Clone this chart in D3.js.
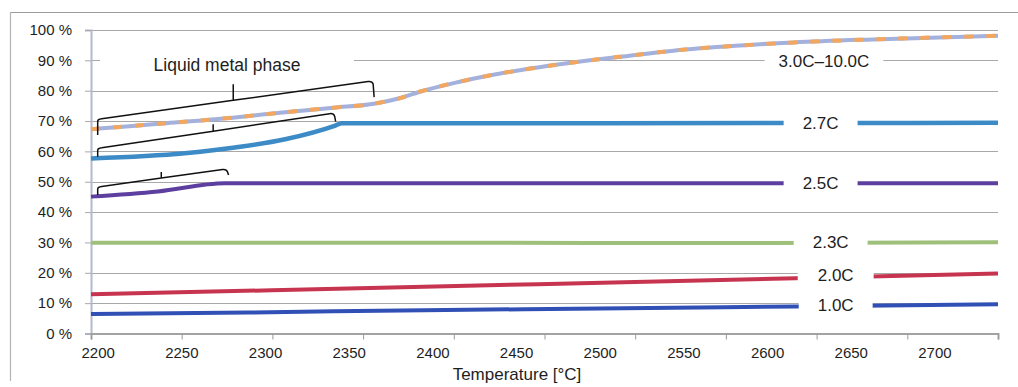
<!DOCTYPE html>
<html>
<head>
<meta charset="utf-8">
<script src="https://cdn.jsdelivr.net/npm/d3@7/dist/d3.min.js"></script>
<style>
  html, body { margin: 0; padding: 0; background: #fff; }
  svg { display: block; font-family: "Liberation Sans", Arial, sans-serif; }
</style>
</head>
<body>
<svg id="chart" width="1018" height="387"></svg>
<script>
// Temperature axis and percentage axis
const xDomain = [2196, 2738];
const xTickLabels = [2200, 2250, 2300, 2350, 2400, 2450, 2500, 2550, 2600, 2650, 2700];
const yTickLabels = [0, 10, 20, 30, 40, 50, 60, 70, 80, 90, 100];

// Series: temperature [°C] and share [%]
const tempC3to10 = [2196, 2219, 2241, 2282, 2312, 2341, 2366, 2381, 2394, 2415, 2434, 2454, 2475, 2494, 2514, 2544, 2581, 2616, 2663, 2738];
const valC3to10  = [67.3, 68.3, 69.3, 71.2, 72.9, 74.4, 75.8, 77.6, 79.9, 82.8, 85.0, 86.9, 88.6, 90.0, 91.3, 93.2, 94.8, 95.9, 96.9, 98.1];

const tempC27 = [2196, 2252, 2282, 2312, 2342, 2346, 2500, 2738];
const valC27  = [57.7, 59.4, 61.3, 64.0, 68.5, 69.3, 69.3, 69.4];

const tempC25 = [2196, 2236, 2276, 2500, 2738];
const valC25  = [45.1, 46.8, 49.5, 49.5, 49.5];

const tempC23 = [2196, 2400, 2600, 2738];
const valC23  = [29.9, 29.9, 29.8, 30.1];

const tempC20 = [2196, 2395, 2617, 2738];
const valC20  = [12.9, 15.4, 18.2, 19.8];

const tempC10 = [2196, 2290, 2395, 2500, 2617, 2738];
const valC10  = [6.4, 6.9, 7.7, 8.2, 8.9, 9.6];

const seriesNames = ["1.0C", "2.0C", "2.3C", "2.5C", "2.7C", "3.0C\u201310.0C"];

// Braces marking the liquid metal phase: start/end temperature and brace height [%]
const braceStartT = [2200, 2200, 2200];
const braceEndT   = [2364, 2341, 2277];
const braceTipT   = [2281, 2269, 2238];
const braceStartV = [70.6, 61.0, 48.3];
const braceEndV   = [83.2, 72.6, 54.2];
const braceLegStartV = [65.4, 58.2, 45.6];
const braceLegEndV   = [77.9, 69.8, 52.2];

const svg = d3.select("#chart");
const W = 1018, H = 387;

const x = d3.scaleLinear().domain(xDomain).range([91, 998]);
const y = d3.scaleLinear().domain([0, 100]).range([333.5, 30]);

// outer frame
svg.append("line").attr("x1", 10).attr("x2", W).attr("y1", 12.5).attr("y2", 12.5)
  .attr("stroke", "#9c9c9c").attr("stroke-width", 1.2);
svg.append("line").attr("x1", 10.5).attr("x2", 10.5).attr("y1", 12).attr("y2", 381)
  .attr("stroke", "#b4b4b4").attr("stroke-width", 1.2);

// horizontal gridlines
svg.append("g").selectAll("line")
  .data(yTickLabels.filter(d => d > 0))
  .join("line")
  .attr("x1", x.range()[0]).attr("x2", x.range()[1])
  .attr("y1", d => Math.round(y(d)) + 0.5).attr("y2", d => Math.round(y(d)) + 0.5)
  .attr("stroke", "#a8a8a8").attr("stroke-width", 1);

// y axis
const yAxis = svg.append("g").attr("transform", `translate(${x.range()[0]},0)`)
  .call(d3.axisLeft(y).tickValues(yTickLabels).tickFormat(d => d + " %").tickSize(6).tickPadding(13));
yAxis.select(".domain").attr("stroke", "#b3b9cf").attr("stroke-width", 2);
yAxis.selectAll(".tick line").attr("stroke", "#a8a8a8");
yAxis.selectAll(".tick text").attr("font-size", 15).attr("fill", "#1e1e1e")
  .attr("font-family", "Liberation Sans, Arial, sans-serif");

// x axis: tick marks evenly over the plot, labels by temperature
const tickMarks = d3.range(11).map(i => xDomain[0] + i * (xDomain[1] - xDomain[0]) / 10);
const xMarks = svg.append("g").attr("transform", `translate(0,${y(0)})`)
  .call(d3.axisBottom(x).tickValues(tickMarks).tickSize(6).tickFormat(""));
xMarks.select(".domain").attr("stroke", "#a3a3a3").attr("stroke-width", 2);
xMarks.selectAll(".tick line").attr("stroke", "#9a9a9a");

const xLabels = svg.append("g").attr("transform", `translate(0,${y(0)})`)
  .call(d3.axisBottom(x).tickValues(xTickLabels).tickSize(0).tickPadding(14).tickFormat(d3.format("d")));
xLabels.select(".domain").remove();
xLabels.selectAll(".tick text").attr("font-size", 15).attr("fill", "#1e1e1e")
  .attr("font-family", "Liberation Sans, Arial, sans-serif");

svg.append("text").attr("x", 517).attr("y", 379.5).attr("text-anchor", "middle")
  .attr("font-size", 17).attr("fill", "#1e1e1e").text("Temperature [\u00B0C]");

// data lines
const line = d3.line().x(d => x(d[0])).y(d => y(d[1])).curve(d3.curveMonotoneX);
const zipSeries = (t, v) => t.map((d, i) => [d, v[i]]);

const series = [
  { data: zipSeries(tempC10, valC10), color: "#3150b5", width: 4 },
  { data: zipSeries(tempC20, valC20), color: "#c7344f", width: 4 },
  { data: zipSeries(tempC23, valC23), color: "#9fc07a", width: 4 },
  { data: zipSeries(tempC25, valC25), color: "#5d3f9f", width: 4 },
  { data: zipSeries(tempC27, valC27), color: "#3d8bc6", width: 4.5 },
];
series.forEach(s => {
  svg.append("path").attr("d", line(s.data)).attr("fill", "none")
    .attr("stroke", s.color).attr("stroke-width", s.width).attr("stroke-linecap", "butt");
});
const topData = zipSeries(tempC3to10, valC3to10);
svg.append("path").attr("d", line(topData)).attr("fill", "none")
  .attr("stroke", "#a3b1dc").attr("stroke-width", 4);
svg.append("path").attr("d", line(topData)).attr("fill", "none")
  .attr("stroke", "#f3a75e").attr("stroke-width", 4).attr("stroke-dasharray", "9,13");

// series labels on white boxes
const labelT   = [2641, 2641, 2638, 2632, 2632, 2634];
const labelV   = [9.4, 19.3, 30.1, 49.6, 69.4, 89.8];
const labelPad = [19, 20, 19, 19, 19, 14];
seriesNames.forEach((name, i) => {
  const g = svg.append("g").attr("transform", `translate(${x(labelT[i])},${y(labelV[i])})`);
  const t = g.append("text").attr("text-anchor", "middle").attr("dy", "0.36em")
    .attr("font-size", 17).attr("fill", "#1e1e1e").text(name);
  const bb = t.node().getBBox();
  g.insert("rect", "text").attr("x", bb.x - labelPad[i]).attr("width", bb.width + 2 * labelPad[i])
    .attr("y", -9).attr("height", 18).attr("fill", "#fff");
});

// braces over the liquid metal phase
const braces = svg.append("g").attr("fill", "none").attr("stroke", "#111").attr("stroke-width", 1.5)
  .attr("stroke-linejoin", "round");
const tipLen = [16, 7, 6];
braceStartT.forEach((t0, i) => {
  const x0 = x(t0), x1 = x(braceEndT[i]), xt = x(braceTipT[i]);
  const y0 = y(braceStartV[i]), y1 = y(braceEndV[i]);
  const yt = y0 + (y1 - y0) * (xt - x0) / (x1 - x0);
  const p = d3.path();
  p.moveTo(x0, y(braceLegStartV[i]));
  p.lineTo(x0, y0 + 2);
  p.quadraticCurveTo(x0, y0, x0 + 4, y0 - 0.5);
  p.lineTo(xt, yt);
  p.lineTo(xt, yt - tipLen[i]);
  p.moveTo(xt, yt);
  p.lineTo(x1 - 4, y1 + 0.5);
  p.quadraticCurveTo(x1, y1, x1 + 1, y1 + 3);
  p.lineTo(x1 + 2, y(braceLegEndV[i]));
  braces.append("path").attr("d", p.toString());
});

// phase annotation
const ann = svg.append("g").attr("transform", `translate(227,${y(90) + 4})`);
ann.append("rect").attr("x", -127).attr("y", -10).attr("width", 254).attr("height", 18).attr("fill", "#fff");
ann.append("text").attr("text-anchor", "middle").attr("dy", "0.36em").attr("font-size", 17.5)
  .attr("fill", "#1e1e1e").text("Liquid metal phase");
</script>
</body>
</html>
